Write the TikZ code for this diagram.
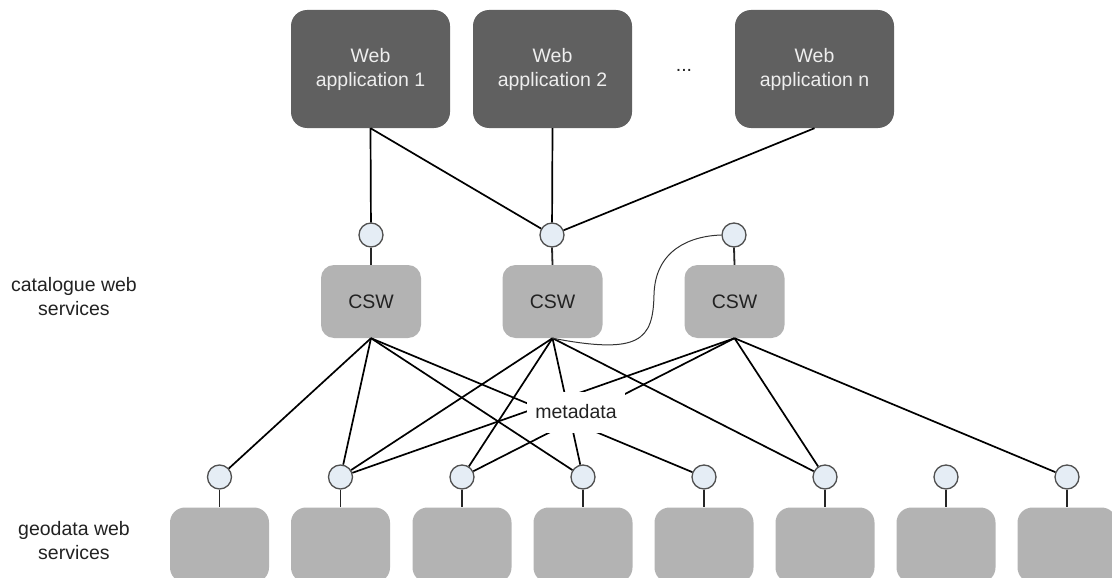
\documentclass[tikz,border=0pt]{standalone}
\usepackage{fontspec}
\setmainfont{Liberation Sans}
\definecolor{appfill}{HTML}{606060}
\definecolor{apptext}{HTML}{EEEEEE}
\definecolor{boxfill}{HTML}{B3B3B3}
\definecolor{portfill}{HTML}{E5EDF5}
\definecolor{portline}{HTML}{505050}
\definecolor{txt}{HTML}{222222}
\begin{document}
\begin{tikzpicture}[x=1pt,y=-1pt,
  every node/.style={font=\fontsize{19.5}{24}\selectfont},
  webapp/.style={rectangle, rounded corners=16pt, fill=appfill, text=apptext, align=center, minimum width=159pt, minimum height=118pt, inner sep=0pt},
  cswbox/.style={rectangle, rounded corners=13pt, fill=boxfill, text=txt, minimum width=100pt, minimum height=73pt, inner sep=0pt},
  geobox/.style={rectangle, rounded corners=15pt, fill=boxfill, minimum width=99pt, minimum height=75pt, inner sep=0pt},
  port/.style={circle, fill=portfill, draw=portline, line width=1.3pt, minimum size=24pt, inner sep=0pt},
  link/.style={line width=1.7pt, black},
  stem/.style={line width=1.8pt, black!85},
  sidelabel/.style={align=center, text=txt},
]
\useasboundingbox (0,0) rectangle (1112,578);
\clip (0,0) rectangle (1112,578);

% web applications
\node[webapp] (w1) at (370.5,69) {Web\\application 1};
\node[webapp] (w2) at (552.5,69) {Web\\application 2};
\node[webapp] (w3) at (814.5,69) {Web\\application n};
\node[text=txt] (dots) at (684,70) {...};

% top ports
\node[port] (t1) at (371,235) {};
\node[port] (t2) at (552,235) {};
\node[port] (t3) at (734,235) {};

% CSW boxes
\node[cswbox] (c1) at (371,301.5) {CSW};
\node[cswbox] (c2) at (552.5,301.5) {CSW};
\node[cswbox] (c3) at (734.5,301.5) {CSW};

% side labels
\node[sidelabel] (lcat) at (74,297) {catalogue web\\services};
\node[sidelabel] (lgeo) at (74,541) {geodata web\\services};

% bottom ports and geodata boxes
\foreach \i/\x in {1/219.5,2/340.5,3/462,4/583,5/704,6/825,7/946,8/1067}{
  \node[geobox] (g\i) at (\x,545) {};
  \node[port] (b\i) at (\x,477) {};
  \draw[stem] (b\i.south) -- (g\i.north);
}

% stems top
\draw[stem] (t1.south) -- (c1.north);
\draw[stem] (t2.south) -- (c2.north);
\draw[stem] (t3.south) -- (c3.north);

% web app links
\draw[link] (w1.south) -- (t1);
\draw[link] (w1.south) -- (t2);
\draw[link] (w2.south) -- (t2);
\draw[link] (w3.south) -- (t2);

% CSW links
\foreach \b in {1,2,4,5}{ \draw[link] (c1.south) -- (b\b); }
\foreach \b in {2,3,4,6}{ \draw[link] (c2.south) -- (b\b); }
\foreach \b in {2,3,6,8}{ \draw[link] (c3.south) -- (b\b); }

% curve
\draw[line width=1pt, black!80] (c2.south) .. controls (640,355) and (653,340) .. (654,295)
  .. controls (655,250) and (690,236) .. (t3.west);

% metadata label
\node[fill=white, text=txt, minimum width=98pt, minimum height=41pt, inner sep=0pt] (meta) at (576,412) {metadata};
\end{tikzpicture}
\end{document}
